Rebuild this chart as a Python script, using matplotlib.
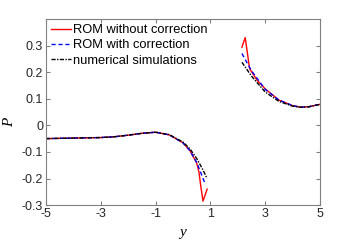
import matplotlib
matplotlib.use("Agg")
import matplotlib.pyplot as plt

# left branch (y < 1)
y_left_num = [-5, -4.5, -4, -3.5, -3, -2.5, -2, -1.5, -1, -0.5, 0, 0.25, 0.5, 0.7, 0.88]
P_left_num = [-0.050, -0.049, -0.048, -0.047, -0.046, -0.043, -0.037, -0.030, -0.026,
              -0.035, -0.063, -0.088, -0.125, -0.162, -0.200]
y_left_cor = [-5, -4.5, -4, -3.5, -3, -2.5, -2, -1.5, -1, -0.5, 0, 0.25, 0.5, 0.6, 0.7, 0.8]
P_left_cor = [-0.050, -0.049, -0.048, -0.047, -0.046, -0.043, -0.037, -0.030, -0.026,
              -0.036, -0.066, -0.095, -0.140, -0.165, -0.192, -0.218]
y_left_rom = [-5, -4.5, -4, -3.5, -3, -2.5, -2, -1.5, -1, -0.5, 0, 0.25, 0.5, 0.58, 0.65, 0.73, 0.88]
P_left_rom = [-0.050, -0.049, -0.048, -0.047, -0.046, -0.043, -0.037, -0.030, -0.026,
              -0.036, -0.066, -0.095, -0.142, -0.175, -0.230, -0.285, -0.240]

# right branch (y > 2)
y_right_num = [2.15, 2.5, 3.0, 3.5, 4.0, 4.3, 4.6, 5.0]
P_right_num = [0.237, 0.185, 0.125, 0.090, 0.072, 0.068, 0.070, 0.079]
y_right_cor = [2.15, 2.5, 3.0, 3.5, 4.0, 4.3, 4.6, 5.0]
P_right_cor = [0.270, 0.205, 0.135, 0.095, 0.074, 0.068, 0.070, 0.079]
y_right_rom = [2.15, 2.27, 2.43, 2.7, 3.0, 3.5, 4.0, 4.3, 4.6, 5.0]
P_right_rom = [0.294, 0.330, 0.213, 0.170, 0.137, 0.095, 0.074, 0.068, 0.070, 0.079]

xticks = [-5, -3, -1, 1, 3, 5]
yticks = [-0.3, -0.2, -0.1, 0, 0.1, 0.2, 0.3]

plt.rcParams['font.family'] = ['Liberation Sans', 'DejaVu Sans']
plt.rcParams['mathtext.fontset'] = 'custom'
plt.rcParams['mathtext.it'] = 'Liberation Serif:italic'
fig = plt.figure(figsize=(3.54, 2.43), dpi=100)
ax = fig.add_axes([0.130, 0.156, 0.774, 0.766])

ax.plot(y_left_rom, P_left_rom, color='r', lw=1.0, label='ROM without correction')
ax.plot(y_left_cor, P_left_cor, color='b', lw=1.0, ls=(0, (3, 2)), label='ROM with correction')
ax.plot(y_left_num, P_left_num, color='k', lw=1.0, ls=(0, (3, 1, 1, 1)), label='numerical simulations')
ax.plot(y_right_rom, P_right_rom, color='r', lw=1.0)
ax.plot(y_right_cor, P_right_cor, color='b', lw=1.0, ls=(0, (3, 2)))
ax.plot(y_right_num, P_right_num, color='k', lw=1.0, ls=(0, (3, 1, 1, 1)))

ax.set_xlim(-5, 5)
ax.set_ylim(-0.3, 0.4)
ax.set_xticks(xticks)
ax.set_xticklabels([str(t) for t in xticks])
ax.set_yticks(yticks)
ax.set_yticklabels(['-0.3', '-0.2', '-0.1', '0', '0.1', '0.2', '0.3'])
ax.tick_params(direction='in', top=True, right=True, labelsize=9, length=3,
               color='#808080', labelcolor='#262626', pad=2)
for s in ax.spines.values():
    s.set_color('#808080')
    s.set_linewidth(0.8)

ax.set_xlabel('$y$', fontsize=11)
ax.set_ylabel('$P$', fontsize=11)
ax.xaxis.set_label_coords(0.5, -0.12)
ax.yaxis.set_label_coords(-0.11, 0.45)

ax.legend(loc='upper left', frameon=False, fontsize=9.3, handlelength=1.5,
          handletextpad=0.2, labelspacing=0.25, borderaxespad=0.15, borderpad=0.25)

fig.savefig('out.png', dpi=100)
